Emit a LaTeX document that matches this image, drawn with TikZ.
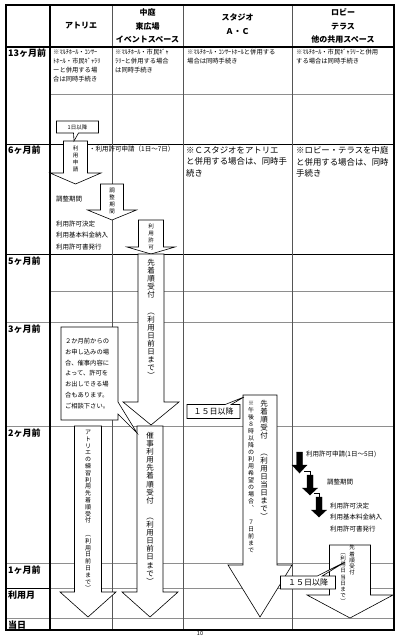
\documentclass[tikz,border=0pt]{standalone}
\usepackage{fontspec}
\setmainfont{Noto Sans CJK JP}
\usetikzlibrary{shapes.callouts,positioning}
\definecolor{rulegray}{HTML}{8E8E8E}
\definecolor{divgray}{HTML}{555555}
% one character per line, for vertical text in the arrows
\newcommand\tatetext[1]{\vbox{\lineskiplimit=-\maxdimen\tatechar#1\relax}}
\def\tatechar#1{\ifx\relax#1\else\hbox to 1em{\hss#1\hss}\expandafter\tatechar\fi}
% block arrow pointing down: [style]{x}{top}{shaft end}{tip}{half shaft}{half head}
\newcommand\blkarrow[7][]{%
  \draw[arrowbody,#1] (#2-#6,#3) -- (#2+#6,#3) -- (#2+#6,#4) -- (#2+#7,#4)
    -- (#2,#5) -- (#2-#7,#4) -- (#2-#6,#4) -- cycle;}
\tikzset{
  frame/.style={draw=black, line width=1.2pt},
  coldiv/.style={draw=divgray, line width=0.5pt},
  rowrule/.style={draw=rulegray, line width=0.5pt},
  darkrule/.style={draw=black, line width=0.6pt},
  hdr/.style={align=center, inner sep=0pt, font=\fontsize{8}{13.5}\selectfont\bfseries},
  rowlabel/.style={anchor=north west, inner sep=0pt, font=\fontsize{9}{10}\selectfont\bfseries},
  cellnote/.style={anchor=north west, align=left, inner sep=0pt, font=\fontsize{6.3}{9}\selectfont},
  stepnote/.style={anchor=north west, align=left, inner sep=0pt, font=\fontsize{6.5}{11.8}\selectfont},
  widenote/.style={anchor=north west, align=left, inner sep=0pt, font=\fontsize{8.4}{11.8}\selectfont},
  vlabel/.style={anchor=north, inner sep=0pt},
  arrowbody/.style={draw=black, fill=white, line width=0.6pt},
  solidarrow/.style={draw=black, fill=black, line width=0.4pt},
  stepline/.style={draw=black, line width=0.4pt},
  callbox/.style={rectangle callout, draw=black, fill=white, line width=0.6pt,
    inner sep=1pt, align=center}
}
\begin{document}
\begin{tikzpicture}[x=1pt, y=-1pt]
  \useasboundingbox (0,0) rectangle (400,637);

  % grid
  \draw[rowrule] (50,94) -- (394,94);
  \draw[rowrule] (50,291) -- (394,291);
  \foreach \y in {322,426,563,588,618}
    \draw[rowrule] (6,\y) -- (394,\y);
  \draw[darkrule] (6,144) -- (394,144);
  \draw[darkrule] (6,254) -- (394,254);
  \draw[darkrule] (6,588) -- (50,588);
  \foreach \x in {112,183,292}
    \draw[coldiv] (\x,5) -- (\x,630);
  \draw[frame] (6,47) -- (394,47);
  \draw[frame] (50,5) -- (50,630);
  \draw[frame] (6,5) rectangle (394,630);

  % header
  \node[hdr] (hatelier) at (81,26) {アトリエ};
  \node[hdr] (hcourt) at (147.5,26) {中庭\\東広場\\イベントスペース};
  \node[hdr] (hstudio) at (237.5,24) {スタジオ\\Ａ・Ｃ};
  \node[hdr] (hlobby) at (343,26) {ロビー\\テラス\\他の共用スペース};

  % row labels
  \node[rowlabel] (r13) at (8,49) {13ヶ月前};
  \node[rowlabel] (r6) at (8,146) {6ヶ月前};
  \node[rowlabel] (r5) at (8,257) {5ヶ月前};
  \node[rowlabel] (r3) at (8,325) {3ヶ月前};
  \node[rowlabel] (r2) at (8,429) {2ヶ月前};
  \node[rowlabel] (r1) at (8,566) {1ヶ月前};
  \node[rowlabel] (rmonth) at (8,591) {利用月};
  \node[rowlabel] (rday) at (8,621) {当日};

  % 13 months
  \node[cellnote] (n13a) at (53,49) {※ﾏﾙﾁﾎｰﾙ・ｺﾝｻｰ\\ﾄﾎｰﾙ・市民ｷﾞｬﾗﾘ\\ーと併用する場\\合は同時手続き};
  \node[cellnote] (n13b) at (115,49) {※ﾏﾙﾁﾎｰﾙ・市民ｷﾞｬ\\ﾗﾘｰと併用する場合\\は同時手続き};
  \node[cellnote] (n13c) at (187,49) {※ﾏﾙﾁﾎｰﾙ・ｺﾝｻｰﾄﾎｰﾙと併用する\\場合は同時手続き};
  \node[cellnote] (n13d) at (296,49) {※ﾏﾙﾁﾎｰﾙ・市民ｷﾞｬﾗﾘｰと併用\\する場合は同時手続き};

  % atelier steps
  \blkarrow{75.5}{141}{173}{184}{12}{25.5}
  \blkarrow{112}{184}{210}{220}{11.5}{24.5}
  \blkarrow{151}{220}{247}{254}{12.5}{24}
  \node[vlabel, font=\fontsize{5.5}{7}\selectfont] (vapply) at (75.5,146) {\tatetext{利用申請}};
  \node[vlabel, font=\fontsize{5.5}{7}\selectfont] (vadjust) at (112,188) {\tatetext{調整期間}};
  \node[vlabel, font=\fontsize{5.5}{7}\selectfont] (vpermit) at (151,224) {\tatetext{利用許可}};
  \node[stepnote] (s6apply) at (89,145.5) {・利用許可申請（1日～7日）};
  \node[stepnote] (s6adjust) at (56,195.5) {調整期間};
  \node[stepnote] (s6decide) at (56,220.5) {利用許可決定\\利用基本料金納入\\利用許可書発行};
  \coordinate (tipone) at (74,141);
  \node[callbox, font=\fontsize{5.5}{6}\selectfont, minimum width=42pt, minimum height=12pt,
    callout absolute pointer={(tipone)}, callout pointer width=5pt] (oneday) at (77.5,127) {1日以降};

  \node[widenote] (n6c) at (186,146) {※Ｃスタジオをアトリエ\\と併用する場合は、同時手\\続き};
  \node[widenote] (n6d) at (296,146) {※ロビー・テラスを中庭\\と併用する場合は、同時\\手続き};

  % court: first come
  \blkarrow{151}{254}{402}{425}{13}{28}
  \node[vlabel, font=\fontsize{7.5}{8.1}\selectfont] (vfirst) at (151,259) {\tatetext{先着順受付　︵利用日前日まで︶}};

  % 2 months
  \blkarrow{88}{426}{592}{617}{13.5}{28}
  \blkarrow{150}{426}{592}{617}{13}{28}
  \node[vlabel, font=\fontsize{6}{6.8}\selectfont] (vpractice) at (88,430) {\tatetext{アトリエの練習利用先着順受付　︵利用日前日まで︶}};
  \node[vlabel, font=\fontsize{7.5}{8.1}\selectfont] (vevent) at (150,432) {\tatetext{催事利用先着順受付　︵利用日前日まで︶}};
  \coordinate (tipevent) at (137,433);
  \node[callbox, font=\fontsize{6.3}{10.8}\selectfont, align=left, text width=49pt, inner sep=4pt,
    minimum height=93pt, callout absolute pointer={(tipevent)}, callout pointer width=12pt]
    (eventnote) at (89.5,373.5) {２か月前からの\\お申し込みの場\\合、催事内容に\\よって、許可を\\お出しできる場\\合もあります。\\ご相談下さい。};

  % studio
  \blkarrow{260}{395}{565}{617}{17}{32}
  \node[vlabel, font=\fontsize{7.5}{8.1}\selectfont] (vstudio) at (264,400) {\tatetext{先着順受付　︵利用日当日まで︶}};
  \node[vlabel, font=\fontsize{6}{7}\selectfont] (vnight) at (251,401) {\tatetext{※午後８時以降の利用希望の場合︑　７日前まで}};
  \coordinate (tipstudio) at (244,397);
  \node[callbox, font=\fontsize{8}{9}\selectfont, minimum width=53pt, minimum height=14pt,
    callout absolute pointer={(tipstudio)}, callout pointer width=6pt] (day15s) at (213.5,411.5) {１５日以降};

  % lobby steps
  \blkarrow[solidarrow]{299.5}{452}{465}{473}{3}{7.5}
  \blkarrow[solidarrow]{310}{475}{488}{495}{3}{7.5}
  \blkarrow[solidarrow]{319}{497}{510}{517}{3}{7.5}
  \coordinate (b1out) at (304,471);
  \coordinate (b2in) at (310,475);
  \coordinate (b2out) at (314,493);
  \coordinate (b3in) at (319,497);
  \draw[stepline] (b1out) -| (b2in);
  \draw[stepline] (b2out) -| (b3in);
  \node[stepnote] (s4apply) at (306,450.5) {利用許可申請(1日～5日)};
  \node[stepnote] (s4adjust) at (327,478.5) {調整期間};
  \node[stepnote] (s4decide) at (330,502.5) {利用許可決定\\利用基本料金納入\\利用許可書発行};

  \blkarrow{350}{545}{595}{618}{20.5}{43}
  \node[vlabel, font=\fontsize{5.5}{6.2}\selectfont] (vlobby) at (352,545) {\tatetext{先着順受付}};
  \node[vlabel, font=\fontsize{5.5}{6.2}\selectfont] (vlobbyb) at (343,553) {\tatetext{︵利用日当日まで︶}};
  \coordinate (tiplobby) at (345,562);
  \node[callbox, font=\fontsize{8}{9}\selectfont, minimum width=55pt, minimum height=13pt,
    callout absolute pointer={(tiplobby)}, callout pointer width=5pt] (day15l) at (308,582.5) {１５日以降};

  \node[inner sep=0pt, font=\fontsize{5.5}{6}\selectfont] (pageno) at (200,633.8) {10};
\end{tikzpicture}
\end{document}
